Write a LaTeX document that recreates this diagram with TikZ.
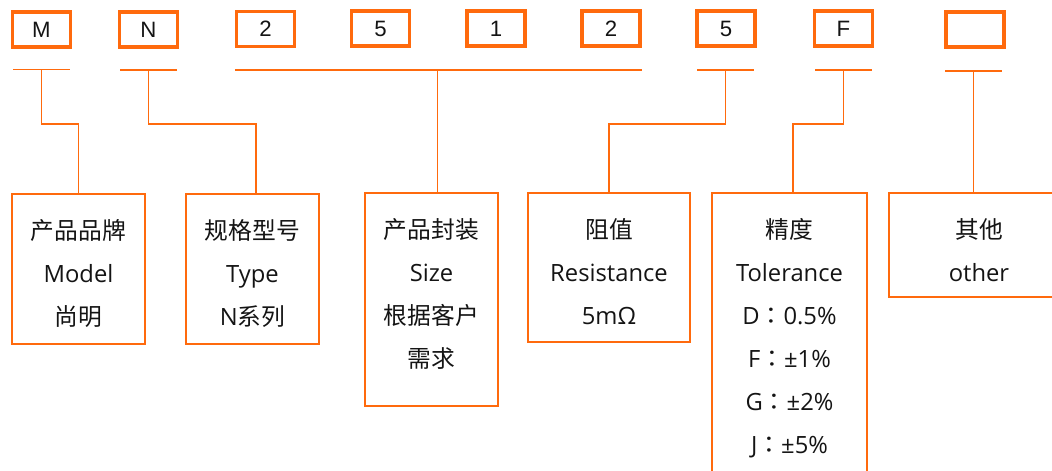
\documentclass[tikz,border=0pt]{standalone}
\usepackage{fontspec}
\setmainfont{Open Sans}
\newfontfamily\cjk{Noto Sans CJK SC}
\newfontfamily\cjkpunct{Noto Sans CJK TC}
\newfontfamily\arial{Liberation Sans}
\definecolor{pnOrange}{HTML}{FF6A0D}
\definecolor{pnText}{HTML}{141414}
\usetikzlibrary{calc}
\newcommand{\px}{0.025cm}
\newcommand{\tolsep}{{\cjkpunct ：}}

\begin{document}
\begin{tikzpicture}[x=\px, y=-\px,
  digit/.style={draw=pnOrange, line width=2.4pt, minimum width=58*\px, minimum height=35*\px,
    inner sep=0pt, text=pnText, font=\arial\fontsize{15.8pt}{18pt}\selectfont},
  card/.style={draw=pnOrange, line width=1.4pt, inner sep=0pt},
  cardtext/.style={anchor=north, align=center, inner sep=0pt, text=pnText,
    font=\fontsize{16.9pt}{30.6pt}\selectfont},
  tick/.style={draw=pnOrange, line width=1.3pt},
  wire/.style={draw=pnOrange, line width=1.4pt}]
  \useasboundingbox (0,0) rectangle (1052,471);

  % code boxes
  \node[digit] (m) at (41.5, 29.5) {M};
  \node[digit] (n) at (148.5, 29.5) {N};
  \node[digit] (s1) at (265.5, 29) {2};
  \node[digit] (s2) at (380.5, 28.5) {5};
  \node[digit] (s3) at (496, 28.5) {1};
  \node[digit] (s4) at (611, 28.5) {2};
  \node[digit] (r) at (726, 28.5) {5};
  \node[digit] (t) at (843.5, 28.5) {F};
  \node[digit] (o) at (975, 29.5) {};

  % description boxes
  \node[card, minimum width=133*\px, minimum height=150*\px] (brand) at (78.5, 269) {};
  \node[card, minimum width=133*\px, minimum height=150*\px] (type) at (252.5, 269) {};
  \node[card, minimum width=133*\px, minimum height=213*\px] (size) at (431.5, 299.5) {};
  \node[card, minimum width=162*\px, minimum height=149*\px] (res) at (609, 267.5) {};
  \node[card, minimum width=155*\px, minimum height=290*\px] (tol) at (789.5, 338) {};
  \node[card, minimum width=180*\px, minimum height=104*\px] (other) at (979, 245) {};

  \node[cardtext] (brandtxt) at ($(brand.north)+(0,26)$) {{\cjk 产品品牌}\\Model\\{\cjk 尚明}};
  \node[cardtext] (typetxt) at ($(type.north)+(0,26)$) {{\cjk 规格型号}\\Type\\N{\cjk 系列}};
  \node[cardtext] (sizetxt) at ($(size.north)+(0,26)$) {{\cjk 产品封装}\\Size\\{\cjk 根据客户}\\{\cjk 需求}};
  \node[cardtext] (restxt) at ($(res.north)+(0,26)$) {{\cjk 阻值}\\Resistance\\5mΩ};
  \node[cardtext] (toltxt) at ($(tol.north)+(0,26)$) {{\cjk 精度}\\Tolerance\\D\tolsep0.5\%\\
    F\tolsep±1\%\\G\tolsep±2\%\\J\tolsep±5\%};
  \node[cardtext] (othertxt) at ($(other.north)+(0,26)$) {{\cjk 其他}\\other};

  % underlines
  \coordinate (mU) at (41.5, 69.5);
  \coordinate (nU) at (148.5, 70);
  \coordinate (szU) at (437.5, 70);
  \coordinate (rU) at (725.5, 70);
  \coordinate (tU) at (843.5, 70);
  \coordinate (oU) at (973.5, 71);
  \foreach \u in {mU, nU, rU, tU, oU}
    \draw[tick] ($(\u)+(-28.5,0)$) -- ($(\u)+(28.5,0)$);
  \draw[tick] (s1.west |- szU) -- (s4.east |- szU);

  % leaders
  \draw[wire] (mU) -- ++(0,54.5) -| (brand.north);
  \draw[wire] (nU) -- ++(0,54) -| ($(type.north)+(3.5,0)$);
  \draw[wire] (szU) -- (szU |- size.north);
  \draw[wire] (rU) -- ++(0,54) -| (res.north);
  \draw[wire] (tU) -- ++(0,54) -| ($(tol.north)+(3.5,0)$);
  \draw[wire] (oU) -- (oU |- other.north);
\end{tikzpicture}
\end{document}
